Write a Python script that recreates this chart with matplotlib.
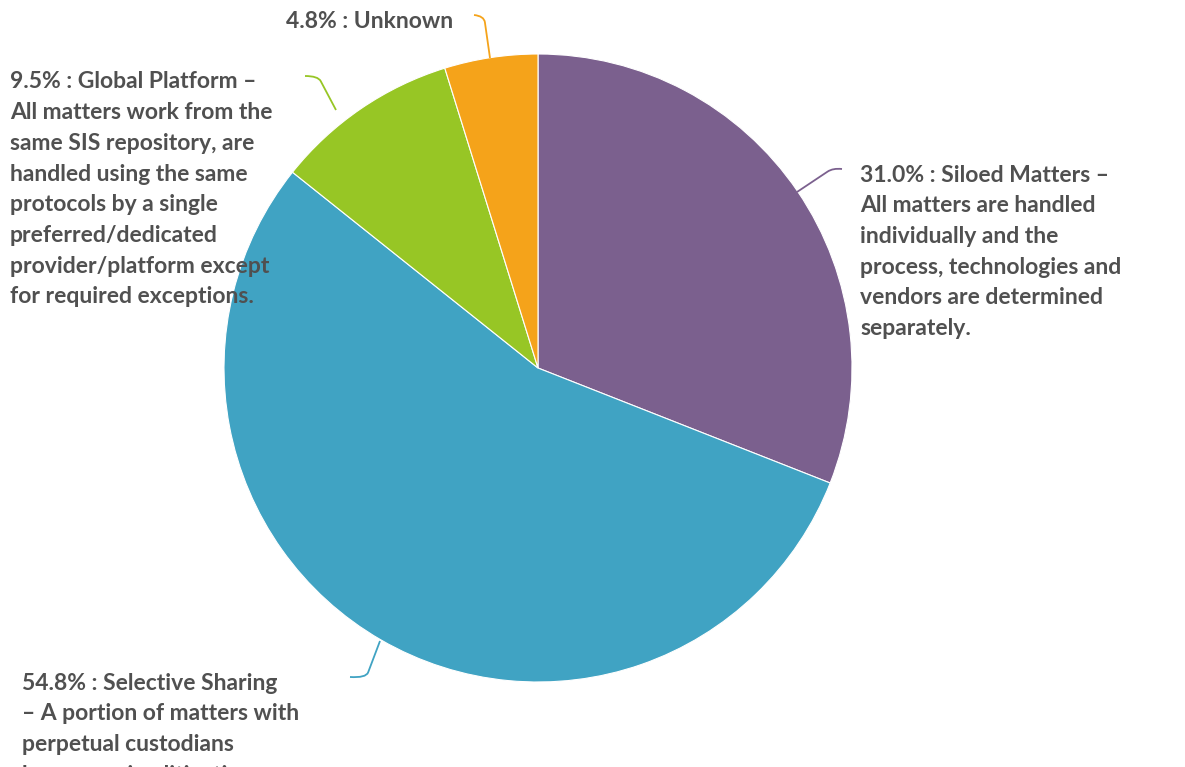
import matplotlib.pyplot as plt
from matplotlib.path import Path
from matplotlib.patches import PathPatch

# Data
labels = ["Siloed Matters", "Selective Sharing", "Global Platform", "Unknown"]
shares = [31.0, 54.8, 9.5, 4.8]
colors = ["#7B608E", "#40A3C3", "#97C625", "#F5A31A"]

label_lines = [
    ["31.0% : Siloed Matters –", "All matters are handled", "individually and the",
     "process, technologies and", "vendors are determined", "separately."],
    ["54.8% : Selective Sharing", "– A portion of matters with", "perpetual custodians",
     "have ongoing litigation"],
    ["9.5% : Global Platform –", "All matters work from the", "same SIS repository, are",
     "handled using the same", "protocols by a single", "preferred/dedicated",
     "provider/platform except", "for required exceptions."],
    ["4.8% : Unknown"],
]

W, H = 1185, 767
fig = plt.figure(figsize=(W / 100, H / 100), dpi=100)
ax = fig.add_axes([0, 0, 1, 1])
ax.set_xlim(0, W)
ax.set_ylim(H, 0)
ax.set_aspect("equal")
ax.axis("off")

cx, cy, r = 538, 368, 314
wedges, _ = ax.pie(
    shares,
    colors=colors,
    startangle=90,
    counterclock=False,
    center=(cx, cy),
    radius=r,
    wedgeprops=dict(edgecolor="white", linewidth=0.8),
    frame=True,
)
ax.set_xlim(0, W)
ax.set_ylim(H, 0)
ax.axis("off")

# pie drawn with y-down axis flips the angular direction; re-mirror
for w in wedges:
    t1, t2 = w.theta1, w.theta2
    w.set_theta1(-t2)
    w.set_theta2(-t1)

# leader lines: (start, control, end)
leaders = [
    [(797, 192), (833, 168), (842, 169)],
    [(380, 641), (366, 678), (350, 677)],
    [(336, 110), (318, 76), (305, 76)],
    [(490, 58), (484, 16), (474, 15)],
]
for pts, c in zip(leaders, colors):
    (x0, y0), (x1, y1), (x2, y2) = pts
    # straight run then rounded corner
    mx, my = x0 + (x1 - x0) * 0.85, y0 + (y1 - y0) * 0.85
    path = Path([(x0, y0), (mx, my), (x1, y1), (x2, y2)],
                [Path.MOVETO, Path.LINETO, Path.CURVE3, Path.CURVE3])
    ax.add_patch(PathPatch(path, facecolor="none", edgecolor=c, lw=1.3))

text_color = "#505050"
text_font = dict(family=["Lato", "DejaVu Sans"], fontweight="bold", fontsize=16.5,
                 color=text_color)
# (x, first line y, alignment)
anchors = [(860, 175, "left"), (22, 683, "left"), (10, 82, "left"), (453, 21, "right")]
pitch = 30.7
for lines, (tx, ty, ha) in zip(label_lines, anchors):
    for i, line in enumerate(lines):
        ax.text(tx, ty + i * pitch, line, ha=ha, va="center", clip_on=False, **text_font)

fig.savefig("out.png", dpi=100)
